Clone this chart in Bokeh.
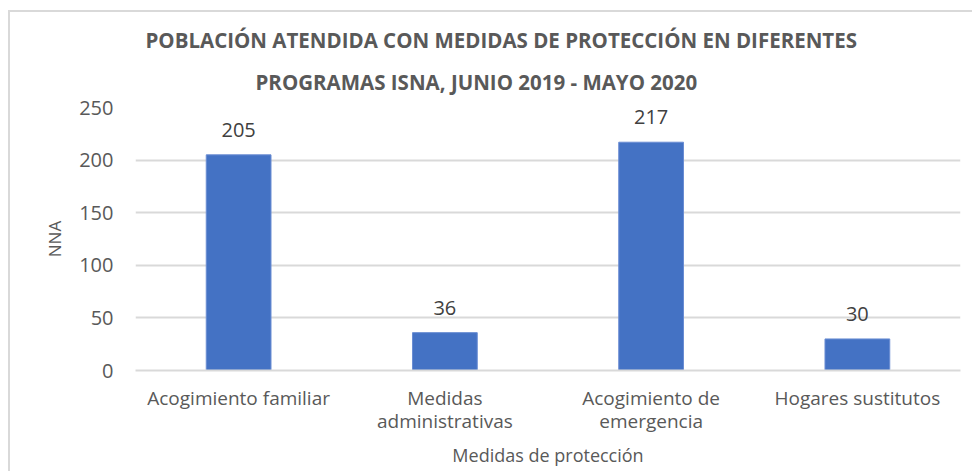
import json
from bokeh.plotting import figure
from bokeh.models import (ColumnDataSource, LabelSet, Range1d, FixedTicker, Title,
                          CategoricalAxis, CustomJSTickFormatter)
from bokeh.core.properties import value
from bokeh.embed import file_html
from bokeh.resources import INLINE

categories = ["Acogimiento familiar", "Medidas administrativas", "Acogimiento de emergencia", "Hogares sustitutos"]
tick_line1 = ["Acogimiento familiar", "Medidas", "Acogimiento de", "Hogares sustitutos"]
tick_line2 = ["", "administrativas", "emergencia", ""]
values = [205, 36, 217, 30]
y_ticks = [0, 50, 100, 150, 200, 250]

FONT = "Open Sans"
GRAY = "#595959"


def mapping_formatter(labels):
    m = json.dumps(dict(zip(categories, labels)))
    return CustomJSTickFormatter(code=f"const m = {m}; return (tick in m) ? m[tick] : tick;")


src = ColumnDataSource(dict(cat=categories, val=values, lab=[str(v) for v in values]))

p = figure(x_range=categories, y_range=Range1d(0, 250),
           frame_width=825, frame_height=263,
           output_backend="svg", toolbar_location=None,
           min_border_left=135, min_border_right=12, min_border_top=107, min_border_bottom=101,
           styles={"box-shadow": "inset 8px 10px 0 0 #ffffff, inset 10px 12px 0 0 #d9d9d9"})
p.outline_line_color = None
p.border_fill_color = None
p.x_range.range_padding = 0

t2 = Title(text="PROGRAMAS ISNA, JUNIO 2019 - MAYO 2020",
           align="left", text_font=FONT, text_font_size="20.5px", text_font_style="bold",
           text_color=GRAY, offset=120, standoff=24, text_line_height=0.9)
t1 = Title(text="POBLACIÓN ATENDIDA CON MEDIDAS DE PROTECCIÓN EN DIFERENTES",
           align="left", text_font=FONT, text_font_size="20.5px", text_font_style="bold",
           text_color=GRAY, offset=10, standoff=0, text_line_height=0.9)
p.add_layout(t2, "above")
p.add_layout(t1, "above")

p.vbar(x="cat", top="val", width=0.314, source=src, fill_color="#4472C4", line_color="#6A8DD3", line_width=1)

labels = LabelSet(x="cat", y="val", text="lab", source=src, text_align="center", text_baseline="bottom",
                  y_offset=18, text_font=value(FONT), text_font_size=value("20px"), text_color="#404040")
p.add_layout(labels)

# y axis
p.yaxis.ticker = FixedTicker(ticks=y_ticks)
p.yaxis.axis_line_color = None
p.yaxis.major_tick_line_color = None
p.yaxis.minor_tick_line_color = None
p.yaxis.major_tick_out = 0
p.yaxis.major_label_text_font = FONT
p.yaxis.major_label_text_font_size = "20px"
p.yaxis.major_label_text_color = GRAY
p.yaxis.major_label_standoff = 22
p.yaxis.axis_label = "NNA"
p.yaxis.axis_label_text_font = FONT
p.yaxis.axis_label_text_font_size = "17px"
p.yaxis.axis_label_text_font_style = "normal"
p.yaxis.axis_label_text_color = GRAY
p.yaxis.axis_label_standoff = 10

# x axis, first line of the category labels
p.xaxis.formatter = mapping_formatter(tick_line1)
p.xaxis.axis_line_color = "#d9d9d9"
p.xaxis.axis_line_width = 2
p.xaxis.major_tick_line_color = None
p.xaxis.minor_tick_line_color = None
p.xaxis.major_tick_out = 0
p.xaxis.major_tick_in = 0
p.xaxis.major_label_text_font = FONT
p.xaxis.major_label_text_font_size = "19px"
p.xaxis.major_label_text_color = GRAY
p.xaxis.major_label_standoff = 14

# second line of the category labels
ax2 = CategoricalAxis(formatter=mapping_formatter(tick_line2))
ax2.axis_line_color = None
ax2.major_tick_line_color = None
ax2.minor_tick_line_color = None
ax2.major_tick_out = 0
ax2.major_tick_in = 0
ax2.major_label_text_font = FONT
ax2.major_label_text_font_size = "19px"
ax2.major_label_text_color = GRAY
ax2.major_label_standoff = -6
ax2.axis_label = "Medidas de protección"
ax2.axis_label_text_font = FONT
ax2.axis_label_text_font_size = "18px"
ax2.axis_label_text_font_style = "normal"
ax2.axis_label_text_color = GRAY
ax2.axis_label_standoff = 6
p.add_layout(ax2, "below")

p.xgrid.grid_line_color = None
p.ygrid.grid_line_color = "#d9d9d9"
p.ygrid.grid_line_width = 2

open("out.html", "w").write(file_html(p, INLINE))
